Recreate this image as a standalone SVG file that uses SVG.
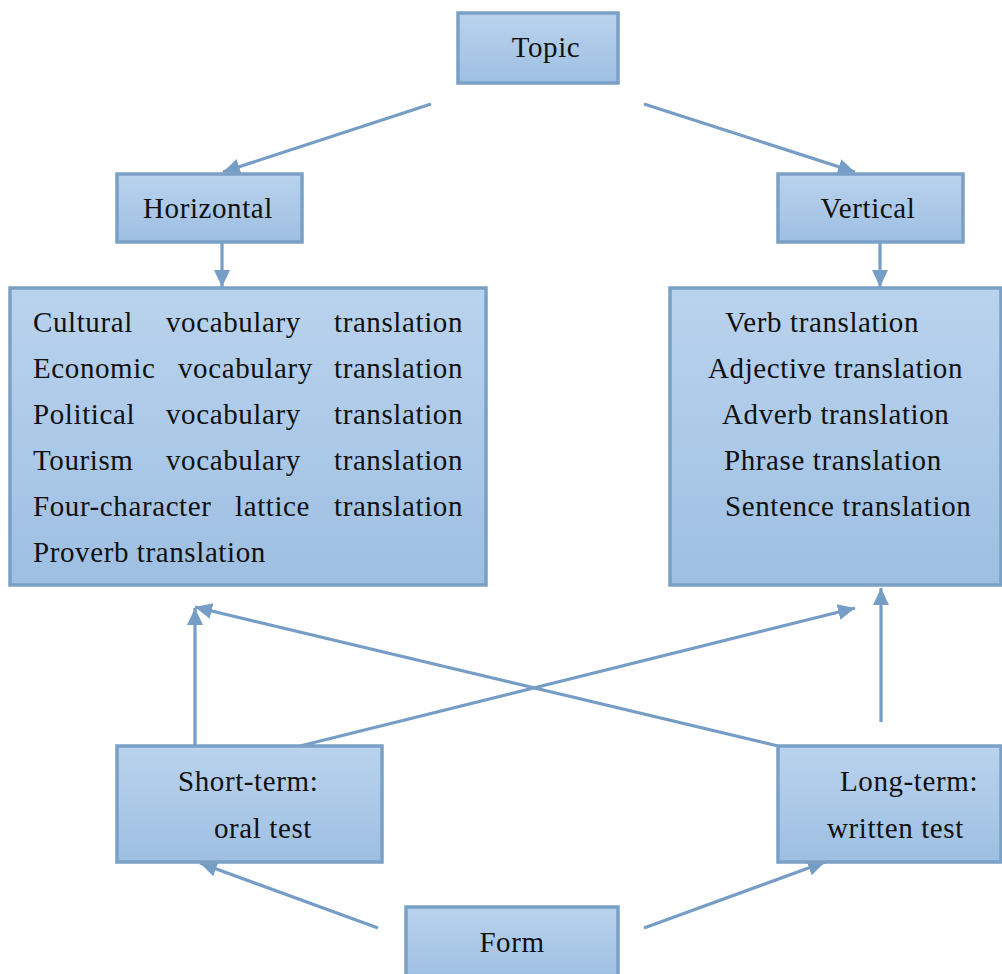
<svg xmlns="http://www.w3.org/2000/svg" width="1002" height="974" viewBox="0 0 1002 974">
<style>
.box{fill:url(#g);stroke:#7ba0c6;stroke-width:3.5}
.t{font-family:"Liberation Serif","Times New Roman",serif;font-size:29px;letter-spacing:0.6px;fill:#111}
.c{text-anchor:middle}
.e{text-anchor:end}
.ln{stroke:#769dc6;stroke-width:3.2;fill:none;marker-end:url(#a)}
</style>
<defs>
<linearGradient id="g" x1="0" y1="0" x2="0" y2="1">
<stop offset="0" stop-color="#bad3ee"/>
<stop offset="1" stop-color="#9ebfe2"/>
</linearGradient>
<marker id="a" markerUnits="userSpaceOnUse" markerWidth="20" markerHeight="20" viewBox="0 0 20 20" refX="17" refY="10" orient="auto">
<path d="M0,2 L17,10 L0,18 Z" fill="#769dc6"/>
</marker>
</defs>
<rect width="1002" height="974" fill="#fff"/>
<g id="connectors">
<line class="ln" x1="431" y1="104" x2="223" y2="172"/>
<line class="ln" x1="644" y1="104" x2="855" y2="172"/>
<line class="ln" x1="222" y1="243" x2="222" y2="287"/>
<line class="ln" x1="880" y1="243" x2="880" y2="287"/>
<line class="ln" x1="195" y1="746" x2="195" y2="608"/>
<line class="ln" x1="300" y1="746" x2="855" y2="608"/>
<line class="ln" x1="778" y1="746" x2="195" y2="607"/>
<line class="ln" x1="881" y1="722" x2="881" y2="588"/>
<line class="ln" x1="378" y1="928" x2="200" y2="863"/>
<line class="ln" x1="644" y1="928" x2="825" y2="862"/>
</g>
<g id="topic">
<rect class="box" x="458" y="13" width="160" height="70"/>
<text class="t c" x="546" y="57">Topic</text>
</g>
<g id="horizontal">
<rect class="box" x="117" y="174" width="185" height="68"/>
<text class="t c" x="208" y="218">Horizontal</text>
</g>
<g id="vertical">
<rect class="box" x="778" y="174" width="185" height="68"/>
<text class="t c" x="868" y="218">Vertical</text>
</g>
<g id="horizontal-items">
<rect class="box" x="10" y="288" width="476" height="297"/>
<text class="t" x="33" y="332">Cultural</text><text class="t" x="166" y="332">vocabulary</text><text class="t e" x="463" y="332">translation</text>
<text class="t" x="33" y="378">Economic</text><text class="t" x="178" y="378">vocabulary</text><text class="t e" x="463" y="378">translation</text>
<text class="t" x="33" y="424">Political</text><text class="t" x="166" y="424">vocabulary</text><text class="t e" x="463" y="424">translation</text>
<text class="t" x="33" y="470">Tourism</text><text class="t" x="166" y="470">vocabulary</text><text class="t e" x="463" y="470">translation</text>
<text class="t" x="33" y="516">Four-character</text><text class="t" x="235" y="516">lattice</text><text class="t e" x="463" y="516">translation</text>
<text class="t" x="33" y="562">Proverb translation</text>
</g>
<g id="vertical-items">
<rect class="box" x="670" y="288" width="331" height="297"/>
<text class="t" x="725" y="332">Verb translation</text>
<text class="t" x="708" y="378">Adjective translation</text>
<text class="t" x="722" y="424">Adverb translation</text>
<text class="t" x="724" y="470">Phrase translation</text>
<text class="t" x="725" y="516">Sentence translation</text>
</g>
<g id="short-term">
<rect class="box" x="117" y="746" width="265" height="116"/>
<text class="t" x="178" y="791">Short-term:</text>
<text class="t" x="214" y="838">oral test</text>
</g>
<g id="long-term">
<rect class="box" x="778" y="746" width="223" height="116"/>
<text class="t" x="840" y="791">Long-term:</text>
<text class="t" x="827" y="838">written test</text>
</g>
<g id="form">
<rect class="box" x="406" y="907" width="212" height="72"/>
<text class="t c" x="512" y="952">Form</text>
</g>
</svg>
